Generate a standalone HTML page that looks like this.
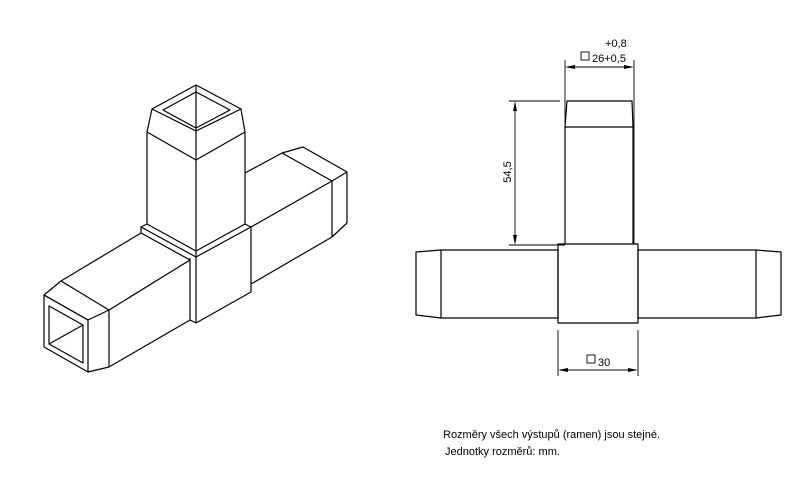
<!DOCTYPE html>
<html><head><style>
html,body{margin:0;padding:0;background:#fff;}
svg{display:block}
text{font-family:"Liberation Sans",sans-serif;fill:#000}
</style></head><body>
<svg width="808" height="492" viewBox="0 0 808 492" xmlns="http://www.w3.org/2000/svg">
<g fill="none" stroke="#000" stroke-width="1.2" stroke-linejoin="round">
<!-- vertical arm -->
<polygon points="196,85 241,109 196,131 152,109"/>
<polygon points="196,92 230,110 196,128 163,110"/>
<line x1="196" y1="85" x2="196" y2="128"/>
<polyline points="152,109 147,132 196,160 245,132 241,109"/>
<line x1="196" y1="128" x2="196" y2="160"/>
<line x1="147" y1="132" x2="147" y2="224"/>
<line x1="245" y1="132" x2="245" y2="224"/>
<line x1="196" y1="160" x2="196" y2="250"/>
<!-- collar -->
<polyline points="147,224 196,251 245,224"/>
<polyline points="147,224 141,227 141,233 190,260"/>
<line x1="141" y1="227" x2="196" y2="257"/>
<polyline points="245,224 251,227 196,257"/>
<line x1="196" y1="250" x2="196" y2="257"/>
<!-- hub -->
<line x1="196" y1="257" x2="196" y2="323"/>
<line x1="190" y1="258" x2="190" y2="320"/>
<polyline points="190,320 196,323 251,292 251,227"/>
<!-- left arm -->
<line x1="141" y1="233" x2="61" y2="281"/>
<line x1="190" y1="260" x2="109" y2="310"/>
<line x1="190" y1="320" x2="109" y2="367"/>
<line x1="109" y1="310" x2="109" y2="367"/>
<polyline points="61,281 44,295 88,320 109,310"/>
<line x1="61" y1="281" x2="109" y2="310"/>
<polygon points="44,295 88,320 88,372 44,347"/>
<polyline points="88,372 109,367"/>
<polygon points="49,306 83,325 83,363 49,344"/>
<line x1="49" y1="344" x2="83" y2="325"/>
<!-- right arm -->
<line x1="245" y1="173" x2="282" y2="153"/>
<polyline points="282,153 303,147 347,172 332,181 282,153"/>
<line x1="251" y1="227" x2="332" y2="181"/>
<line x1="332" y1="181" x2="332" y2="237"/>
<line x1="347" y1="172" x2="347" y2="223"/>
<line x1="347" y1="223" x2="332" y2="237"/>
<line x1="251" y1="284" x2="332" y2="237"/>

<!-- right orthographic view -->
<polyline points="565,244 565,127 567,101 632,101 633,127 633,244"/>
<line x1="565" y1="127" x2="633" y2="127"/>
<rect x="558" y="244" width="80" height="79"/>
<rect x="441" y="250" width="117" height="68"/>
<polyline points="441,250 416,252 416,315 441,318"/>
<rect x="638" y="250" width="118" height="68"/>
<polyline points="756,250 781,252 781,315 756,318"/>
</g>
<g fill="none" stroke="#000" stroke-width="0.9">
<line x1="565" y1="60" x2="565" y2="244"/>
<line x1="634" y1="60" x2="634" y2="244"/>
<line x1="567" y1="67" x2="632" y2="67"/>
<line x1="509" y1="101" x2="560" y2="101"/>
<line x1="509" y1="245" x2="565" y2="245"/>
<line x1="515" y1="103" x2="515" y2="243"/>
<line x1="558" y1="330" x2="558" y2="376"/>
<line x1="638" y1="330" x2="638" y2="376"/>
<line x1="560" y1="370" x2="636" y2="370"/>
<rect x="581" y="52" width="8" height="8"/>
<rect x="587" y="355" width="8" height="8"/>
</g>
<g fill="#000">
<polygon points="565,67 575,65 575,69"/>
<polygon points="634,67 624,65 624,69"/>
<polygon points="515,101 513,111 517,111"/>
<polygon points="515,245 513,235 517,235"/>
<polygon points="558,370 568,368 568,372"/>
<polygon points="638,370 628,368 628,372"/>
</g>
<text x="605" y="47" font-size="11">+0,8</text>
<text x="592" y="62" font-size="11">26+0,5</text>
<text x="598" y="366" font-size="11">30</text>
<text transform="translate(511,172) rotate(-90)" font-size="11" text-anchor="middle">54,5</text>
<text x="443" y="438" font-size="11">Rozměry všech výstupů (ramen) jsou stejné.</text>
<text x="445" y="455" font-size="11">Jednotky rozměrů: mm.</text>
</svg>
</body></html>
